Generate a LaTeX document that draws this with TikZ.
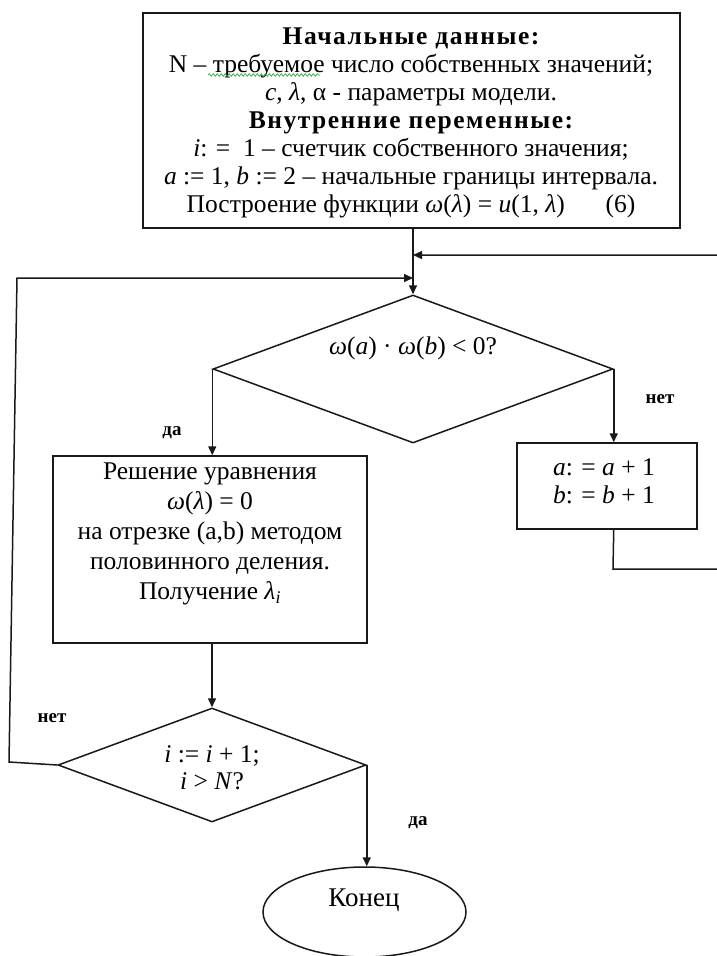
\documentclass[tikz,border=0pt]{standalone}
\usepackage{fontspec}
\setmainfont{Liberation Serif}
\usetikzlibrary{shapes.geometric,arrows.meta,decorations.pathmorphing}
\definecolor{ln}{RGB}{25,25,25}
\definecolor{wavy}{RGB}{60,170,60}
\tikzset{
  shapeline/.style={draw=ln,line width=1.5pt},
  boxshape/.style={shapeline,rectangle,inner sep=0pt},
  dshape/.style={shapeline,diamond,inner sep=0pt},
  eshape/.style={shapeline,ellipse,inner sep=0pt},
  txt/.style={align=center,inner sep=0pt,font=\fontsize{25.5}{28}\selectfont},
  lbl/.style={inner sep=0pt,font=\fontsize{19}{21}\selectfont\bfseries},
  conn/.style={draw=ln,line width=1.5pt},
  arr/.style={conn,-{Triangle[length=9pt,width=8pt]}}
}
\newcommand{\spaced}[1]{{\bfseries\addfontfeature{LetterSpace=6}#1}}
\begin{document}
\begin{tikzpicture}[x=1pt,y=-1pt]
\useasboundingbox[fill=white] (0,0) rectangle (716,956);
% shapes
\node[boxshape,minimum width=537pt,minimum height=215pt] (start) at (411.5,120.5) {};
\node[dshape,minimum width=400pt,minimum height=148pt] (cond) at (413,369) {};
\node[boxshape,minimum width=314pt,minimum height=187pt] (solve) at (210,549.5) {};
\node[boxshape,minimum width=180pt,minimum height=86pt] (shift) at (607,486) {};
\node[dshape,minimum width=308pt,minimum height=114pt] (check) at (212,765) {};
\node[eshape,minimum width=203pt,minimum height=90pt] (fin) at (364.5,912) {};
% texts
\node[txt] (starttxt) at (411,122.5) {\spaced{Начальные данные:}\\
N – требуемое число собственных значений;\\
\textit{c}, \textit{λ}, α - параметры модели.\\
\spaced{Внутренние переменные:}\\
\textit{i}: =\ \ 1 – счетчик собственного значения;\\
\textit{a} :=\ 1, \textit{b} :=\ 2 – начальные границы интервала.\\
Построение функции \textit{ω}(\textit{λ}) = \textit{u}(1, \textit{λ})\hspace{1.6em}(6)};
\node[txt] (condtxt) at (413,348) {\textit{ω}(\textit{a}) · \textit{ω}(\textit{b}) < 0?};
\node[txt,font=\fontsize{25.5}{30}\selectfont] (solvetxt) at (210,534) {Решение уравнения\\
\textit{ω}(\textit{λ}) = 0\\
на отрезке (a,b) методом\\
половинного деления.\\
Получение \textit{λ}\textsubscript{\textit{i}}};
\node[txt] (shifttxt) at (604,481) {\textit{a}: = \textit{a} + 1\\ \textit{b}: = \textit{b} + 1};
\node[txt,font=\fontsize{25.5}{27}\selectfont] (checktxt) at (212,768) {\textit{i} := \textit{i} + 1;\\ \textit{i} > \textit{N}?};
\node[txt,font=\fontsize{27}{30}\selectfont] (fintxt) at (364,900) {Конец};
\node[lbl] (yes1) at (172,433) {да};
\node[lbl] (no1) at (660,399) {нет};
\node[lbl] (no2) at (52,718) {нет};
\node[lbl] (yes2) at (418,823) {да};
% spell-check underline
\draw[wavy,line width=0.7pt,decorate,decoration={snake,amplitude=1.3pt,segment length=4pt}] (208,75) -- (320,75);
% connectors
\coordinate (mainin) at (413,278);
\coordinate (rightin) at (413,255);
\draw[arr] (start.south -| cond.north) -- (cond.north);
\draw[arr] (cond.west) -- (cond.west |- solve.north);
\draw[arr] (cond.east) -- (cond.east |- shift.north);
\draw[arr] (solve.south -| check.north) -- (check.north);
\draw[arr] (check.east) -- (check.east |- fin.north);
\coordinate (rb) at (613,569);
\coordinate (rc) at (735,569);
\coordinate (rd) at (735,255);
\draw[arr] (shift.south -| cond.east) -- (rb) -- (rc) -- (rd) -- (rightin);
\coordinate (la) at (9,762);
\coordinate (lb) at (17,278);
\draw[arr] (check.west) -- (la) -- (lb) -- (mainin);
\end{tikzpicture}
\end{document}
